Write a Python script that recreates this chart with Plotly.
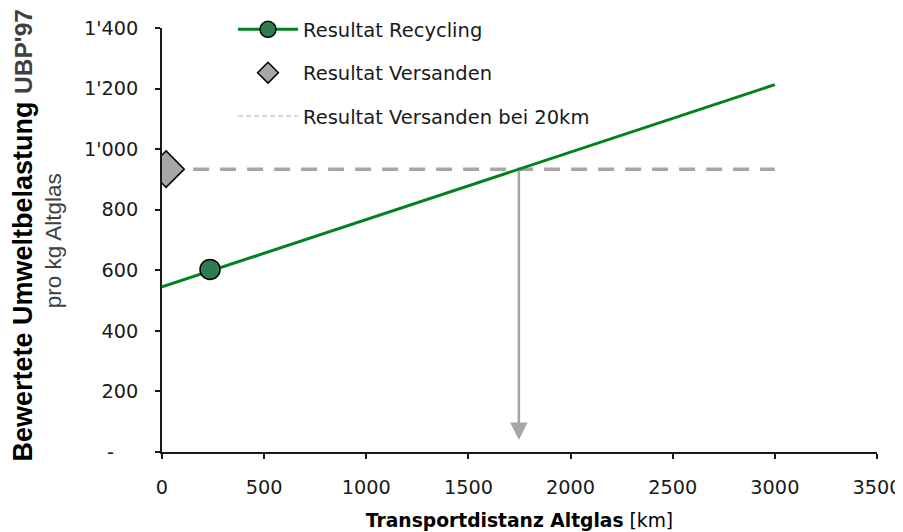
import plotly.graph_objects as go

# ---- data ----
recycling_line_x = [0, 3000]
recycling_line_y = [545, 1213]
recycling_point_x = [235]
recycling_point_y = [603]
versand_x = [20]
versand_y = [934]
versand20_line_x = [20, 3000]
versand20_line_y = [934, 934]
arrow_tip_y = 40

x_tickvals = [0, 500, 1000, 1500, 2000, 2500, 3000, 3500]
x_ticktext = ["0", "500", "1000", "1500", "2000", "2500", "3000", "3500"]
y_tickvals = [0, 200, 400, 600, 800, 1000, 1200, 1400]
y_ticktext = ["-\u00a0\u00a0\u00a0\u00a0", "200", "400", "600", "800", "1'000", "1'200", "1'400"]

names = ["Resultat Recycling", "Resultat Versanden", "Resultat Versanden bei 20km"]

# intersection of recycling line with the 20km level
slope = (recycling_line_y[1] - recycling_line_y[0]) / (recycling_line_x[1] - recycling_line_x[0])
x_cross = (versand20_line_y[0] - recycling_line_y[0]) / slope

GREEN = "#00821E"
GREEN_FILL = "#2E7D52"
GREY = "#A6A6A6"
AX = "#1A1A1A"
TICKFONT = dict(family="DejaVu Sans", size=19.3, color="#1A1A1A")

fig = go.Figure()

# actual lines (no legend)
fig.add_trace(go.Scatter(x=versand20_line_x, y=versand20_line_y, mode="lines",
                         line=dict(color=GREY, width=3.5, dash="16px,11px"),
                         showlegend=False, hoverinfo="skip"))
fig.add_trace(go.Scatter(x=recycling_line_x, y=recycling_line_y, mode="lines",
                         line=dict(color=GREEN, width=3),
                         showlegend=False, hoverinfo="skip"))

# legend entries
fig.add_trace(go.Scatter(x=[None], y=[None], mode="lines+markers", name=names[0],
                         line=dict(color=GREEN, width=3),
                         marker=dict(symbol="circle", size=20, color=GREEN_FILL,
                                     line=dict(color="#000000", width=1.5)),
                         legendgroup="a"))
fig.add_trace(go.Scatter(x=versand_x, y=versand_y, mode="markers", name=names[1],
                         marker=dict(symbol="diamond", size=28, color=GREY,
                                     line=dict(color="#000000", width=1.5)),
                         legendgroup="b"))
fig.add_trace(go.Scatter(x=[None], y=[None], mode="lines", name=names[2],
                         line=dict(color="#B4B4B4", width=1, dash="5px,3px"),
                         legendgroup="c"))

# recycling point
fig.add_trace(go.Scatter(x=recycling_point_x, y=recycling_point_y, mode="markers",
                         marker=dict(symbol="circle", size=20, color=GREEN_FILL,
                                     line=dict(color="#000000", width=1.5)),
                         showlegend=False))

# arrow
fig.add_annotation(x=x_cross, y=arrow_tip_y, ax=x_cross, ay=versand20_line_y[0],
                   xref="x", yref="y", axref="x", ayref="y", text="",
                   showarrow=True, arrowhead=2, arrowsize=1.4, arrowwidth=2.5,
                   arrowcolor=GREY, standoff=0)

# y title
fig.add_annotation(xref="paper", yref="paper", x=-0.1944, y=0.5106,
                   xanchor="center", yanchor="middle", textangle=-90, showarrow=False,
                   text="<b>Bewertete Umweltbelastung</b> <span style='font-size:24.5px;color:#404040'><b>UBP'97</b></span>",
                   font=dict(family="Liberation Sans", size=27, color="#000000"))
fig.add_annotation(xref="paper", yref="paper", x=-0.152, y=0.4976,
                   xanchor="center", yanchor="middle", textangle=-90, showarrow=False,
                   text="pro kg Altglas",
                   font=dict(family="Liberation Sans", size=22.5, color="#404040"))

fig.update_layout(
    width=895, height=524, autosize=False,
    margin=dict(l=154, r=26, t=20, b=80, autoexpand=False),
    paper_bgcolor="white", plot_bgcolor="white",
    showlegend=True,
    legend=dict(x=(233 - 162) / 715, y=1.042, xanchor="left", yanchor="top",
                bgcolor="rgba(0,0,0,0)", font=dict(family="DejaVu Sans", size=19.5, color="#1A1A1A"),
                itemwidth=60, tracegroupgap=15, traceorder="grouped"),
    xaxis=dict(range=[0, 3500], tickvals=x_tickvals, ticktext=x_ticktext,
               showgrid=False, zeroline=False, showline=True, linecolor=AX, linewidth=1.5,
               ticks="outside", ticklen=5, tickwidth=1.5, tickcolor=AX, automargin=False,
               tickfont=TICKFONT, ticklabelstandoff=12,
               title=dict(text="<b>Transportdistanz Altglas</b> [km]",
                          font=dict(family="DejaVu Sans", size=18.7, color="#000000"),
                          standoff=16)),
    yaxis=dict(range=[0, 1400], tickvals=y_tickvals, ticktext=y_ticktext,
               showgrid=False, zeroline=False, showline=True, linecolor=AX, linewidth=1.5,
               ticks="outside", ticklen=5, tickwidth=1.5, tickcolor=AX, automargin=False,
               tickfont=TICKFONT, ticklabelstandoff=13),
)

fig.write_html("out.html")
